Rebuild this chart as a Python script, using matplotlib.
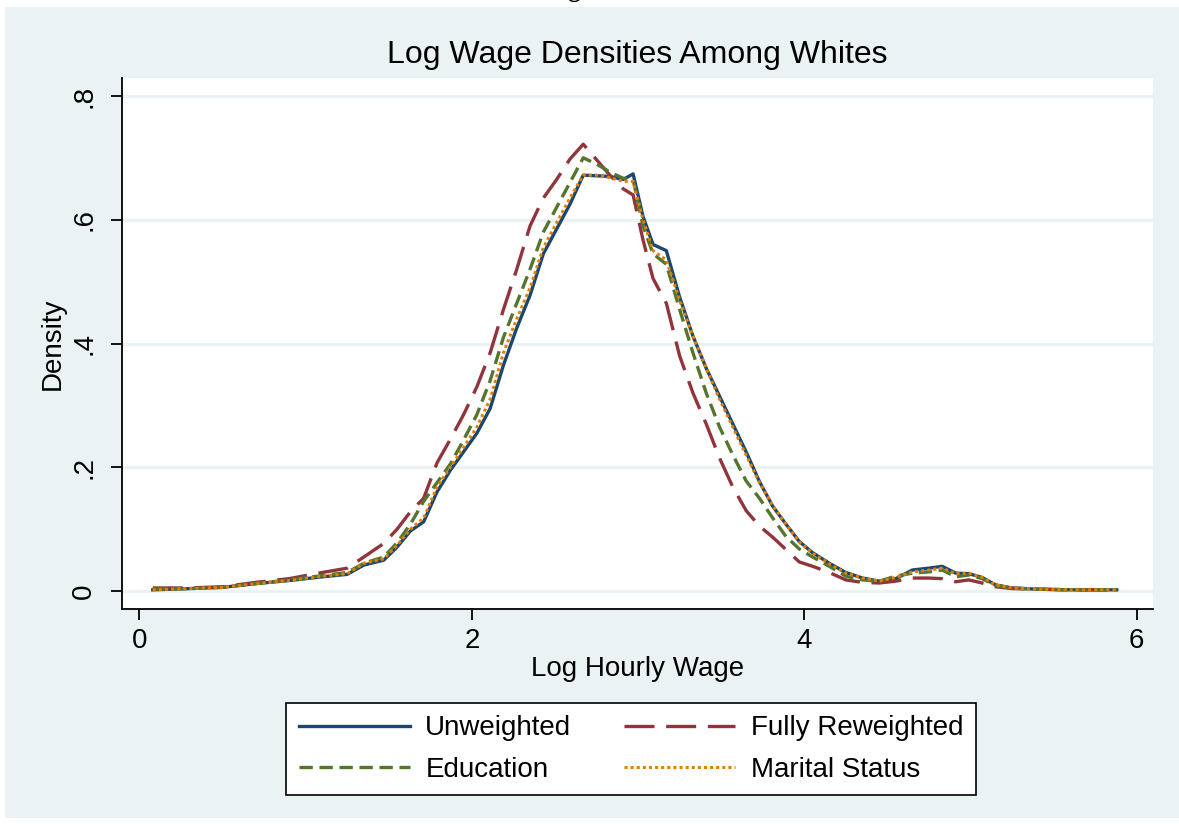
import matplotlib.pyplot as plt
from matplotlib.patches import Rectangle

plt.rcParams['font.family'] = ['Liberation Sans', 'DejaVu Sans']

# evaluation points of the density estimates (log hourly wage)
log_wage = [0.08, 0.3, 0.5, 0.7, 0.9, 1.1, 1.25, 1.35, 1.47, 1.55, 1.63, 1.71,
            1.79, 1.87, 1.95, 2.03, 2.11, 2.19, 2.27, 2.35, 2.43, 2.51, 2.59,
            2.67, 2.75, 2.83, 2.91, 2.97, 3.03, 3.09, 3.17, 3.25, 3.33, 3.41,
            3.49, 3.57, 3.65, 3.73, 3.81, 3.89, 3.97, 4.05, 4.15, 4.25, 4.35,
            4.45, 4.55, 4.65, 4.75, 4.83, 4.91, 4.99, 5.07, 5.15, 5.25, 5.4,
            5.6, 5.88]

unweighted = [0.002, 0.004, 0.006, 0.012, 0.017, 0.023, 0.027, 0.042, 0.050,
              0.071, 0.097, 0.112, 0.160, 0.195, 0.225, 0.255, 0.295, 0.365,
              0.425, 0.478, 0.545, 0.585, 0.625, 0.672, 0.671, 0.670, 0.665,
              0.674, 0.605, 0.560, 0.550, 0.475, 0.412, 0.360, 0.315, 0.270,
              0.225, 0.177, 0.137, 0.108, 0.080, 0.062, 0.045, 0.030, 0.021,
              0.016, 0.020, 0.034, 0.037, 0.040, 0.029, 0.028, 0.022, 0.010,
              0.005, 0.003, 0.002, 0.002]

fully_reweighted = [0.005, 0.005, 0.007, 0.014, 0.020, 0.030, 0.037, 0.055,
                    0.077, 0.100, 0.128, 0.150, 0.207, 0.245, 0.285, 0.330,
                    0.385, 0.455, 0.520, 0.590, 0.635, 0.665, 0.698, 0.722,
                    0.697, 0.672, 0.650, 0.640, 0.567, 0.505, 0.465, 0.380,
                    0.320, 0.270, 0.215, 0.168, 0.130, 0.105, 0.087, 0.067,
                    0.047, 0.040, 0.030, 0.018, 0.014, 0.013, 0.016, 0.021,
                    0.021, 0.020, 0.015, 0.018, 0.013, 0.007, 0.004, 0.003,
                    0.002, 0.002]

education = [0.003, 0.004, 0.006, 0.012, 0.018, 0.025, 0.030, 0.045, 0.055,
             0.078, 0.108, 0.145, 0.175, 0.205, 0.244, 0.285, 0.340, 0.410,
             0.465, 0.520, 0.580, 0.620, 0.660, 0.700, 0.690, 0.677, 0.667,
             0.665, 0.590, 0.545, 0.528, 0.455, 0.385, 0.320, 0.265, 0.220,
             0.178, 0.150, 0.118, 0.088, 0.068, 0.055, 0.040, 0.024, 0.018,
             0.016, 0.024, 0.029, 0.031, 0.034, 0.023, 0.026, 0.020, 0.009,
             0.005, 0.003, 0.002, 0.002]

marital_status = [0.002, 0.004, 0.006, 0.012, 0.017, 0.024, 0.028, 0.045,
                  0.052, 0.074, 0.100, 0.118, 0.168, 0.200, 0.232, 0.265,
                  0.310, 0.385, 0.440, 0.490, 0.555, 0.595, 0.635, 0.672,
                  0.672, 0.668, 0.662, 0.662, 0.600, 0.550, 0.535, 0.470,
                  0.412, 0.360, 0.310, 0.265, 0.220, 0.175, 0.138, 0.108,
                  0.079, 0.061, 0.044, 0.029, 0.021, 0.016, 0.022, 0.031,
                  0.034, 0.037, 0.028, 0.029, 0.022, 0.010, 0.005, 0.003,
                  0.002, 0.002]

y_ticks = [0, 0.2, 0.4, 0.6, 0.8]
y_tick_labels = ['0', '.2', '.4', '.6', '.8']
x_ticks = [0, 2, 4, 6]

bg = '#eaf2f3'

fig = plt.figure(figsize=(11.79, 8.27), dpi=100)
fig.patch.set_facecolor('white')
# stata-style outer panel
fig.patches.append(Rectangle((5 / 1179, 9 / 827), 1 - 5 / 1179, 1 - 16 / 827,
                             transform=fig.transFigure, facecolor=bg,
                             edgecolor='none', zorder=-5))

# cropped caption at the very top
fig.text(590 / 1179, 1 + 3 / 827, 'Figure 3', ha='center', va='baseline',
         fontsize=18, fontweight='bold', family='Liberation Serif')

ax = fig.add_axes([122 / 1179, 1 - 609 / 827, 1031 / 1179, 531 / 827])
ax.set_zorder(2)
ax.set_facecolor('white')

for y in y_ticks:
    ax.axhline(y, color=bg, lw=2.4, zorder=1)

l_unw, = ax.plot(log_wage, unweighted, color='#1a476f', lw=2.4, ls='-',
                 zorder=3)
l_full, = ax.plot(log_wage, fully_reweighted, color='#90353b', lw=2.4,
                  ls=(0, (9, 3.5)), zorder=3)
l_edu, = ax.plot(log_wage, education, color='#55752f', lw=2.4,
                 ls=(0, (4, 2)), zorder=3)
l_mar, = ax.plot(log_wage, marital_status, color='#e37e00', lw=2.2,
                 ls=(0, (1, 1)), zorder=4)

ax.set_xlim(-0.105, 6.098)
ax.set_ylim(-0.029, 0.829)
ax.set_xticks(x_ticks)
ax.set_yticks(y_ticks)
ax.set_yticklabels(y_tick_labels, rotation=90, va='center')

for side in ['top', 'right']:
    ax.spines[side].set_visible(False)
for side in ['left', 'bottom']:
    ax.spines[side].set_linewidth(1.3)
ax.tick_params(axis='both', direction='out', length=8, width=1.3,
               labelsize=20)
ax.tick_params(axis='x', pad=6)
ax.tick_params(axis='y', pad=10)

fig.text(637 / 1179, 1 - 55 / 827, 'Log Wage Densities Among Whites',
         ha='center', va='center', fontsize=23)
ax.set_xlabel('Log Hourly Wage', fontsize=20, labelpad=1)
ax.set_ylabel('Density', fontsize=20, labelpad=4)

# column-major fill: row 1 = Unweighted / Fully Reweighted
leg = fig.legend([l_unw, l_edu, l_full, l_mar],
                 ['Unweighted', 'Education', 'Fully Reweighted', 'Marital Status'],
                 loc='center', bbox_to_anchor=(631 / 1179, 1 - 749 / 827),
                 ncol=2, fontsize=20, frameon=True, fancybox=False,
                 framealpha=1, handlelength=4.0, handletextpad=0.55,
                 columnspacing=1.9, labelspacing=0.55, borderpad=0.45,
                 borderaxespad=0)
leg.get_frame().set_edgecolor('black')
leg.get_frame().set_facecolor('white')
leg.get_frame().set_linewidth(1.2)

fig.savefig('out.png', dpi=100, facecolor=fig.get_facecolor())
